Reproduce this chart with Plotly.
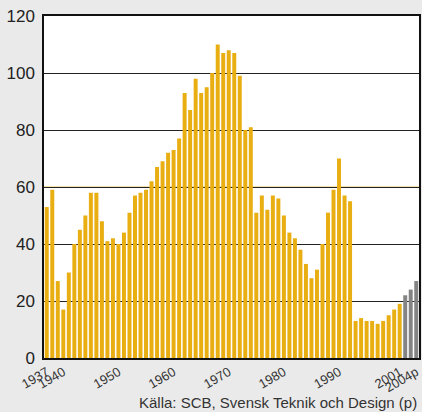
import plotly.graph_objects as go

years = list(range(1937, 2005))
values = [
    53, 59, 27, 17, 30, 40, 45, 50, 58, 58,   # 1937-1946
    48, 41, 42, 40, 44, 51, 57, 58, 59, 62,   # 1947-1956
    67, 69, 72, 73, 77, 93, 87, 98, 93, 95,   # 1957-1966
    100, 110, 107, 108, 107, 99, 80, 81, 51, 57,  # 1967-1976
    52, 57, 56, 50, 44, 42, 38, 33, 28, 31,   # 1977-1986
    40, 51, 59, 70, 57, 55, 13, 14, 13, 13,   # 1987-1996
    12, 13, 15, 17, 19, 22, 24, 27,           # 1997-2004
]
preliminary = [2002, 2003, 2004]
tick_years = [1937, 1940, 1950, 1960, 1970, 1980, 1990, 2001, 2004]
tick_text = ["1937", "1940", "1950", "1960", "1970", "1980", "1990", "2001", "2004p"]
source = "Källa: SCB, Svensk Teknik och Design (p)"

colors = ["#848484" if y in preliminary else "#E8AE12" for y in years]

fig = go.Figure()
fig.add_trace(go.Bar(x=years, y=values, marker=dict(color=colors, line=dict(width=0)),
                     width=0.72, showlegend=False))

# yellow gridline at 60
fig.add_shape(type="line", xref="paper", yref="y", x0=0, x1=1, y0=60, y1=60,
              line=dict(color="#F2D98E", width=1.5), layer="between")

fig.add_annotation(text=source, xref="paper", yref="paper", x=1.0, y=-0.1,
                   xanchor="right", yanchor="top", showarrow=False,
                   font=dict(size=15, color="#333333"))

fig.update_xaxes(range=[1936.5, 2004.5], tickvals=tick_years, ticktext=tick_text,
                 tickangle=-30, ticks="", showgrid=False, showline=True, mirror=True,
                 linecolor="#111111", linewidth=1.5, zeroline=False, automargin=False,
                 tickfont=dict(size=13, color="#333333"))
fig.update_yaxes(range=[0, 120], dtick=20, showgrid=True, gridcolor="#222222",
                 gridwidth=1, showline=True, mirror=True, linecolor="#111111",
                 linewidth=1.5, zeroline=False, ticks="", automargin=False,
                 ticklabelstandoff=4,
                 tickfont=dict(size=17, color="#222222"))

fig.update_layout(
    width=422, height=412,
    margin=dict(l=44, r=3, t=16, b=54),
    paper_bgcolor="#EAEAEA", plot_bgcolor="#FFFFFF",
    font=dict(family="Liberation Sans, Arial, sans-serif"),
    bargap=0.25,
)

# page body has a default 8px margin; drop it so the figure fills the window
fig.write_html("out.html", config={"displayModeBar": False},
               post_script="document.body.style.margin = '0';")
